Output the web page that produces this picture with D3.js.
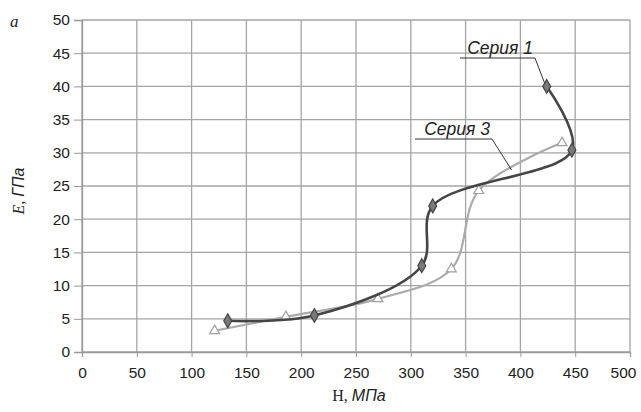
<!DOCTYPE html>
<head>
  <meta charset="utf-8">
  <title>E vs H</title>
  <style>
    body { margin: 0; background: #fff; }
    .tick text { font-family: "Liberation Sans", Arial, sans-serif; font-size: 15.5px; fill: #222; }
  </style>
</head>
<body>
  <script src="https://cdn.jsdelivr.net/npm/d3@7"></script>
  <script>
    // values
    const xTicks = [0, 50, 100, 150, 200, 250, 300, 350, 400, 450, 500];
    const yTicks = [0, 5, 10, 15, 20, 25, 30, 35, 40, 45, 50];
    const seriesNames = ["Серия 1", "Серия 3"];
    const s1H = [133, 212, 310, 320, 447, 424];
    const s1E = [4.7, 5.5, 13, 22, 30.4, 40];
    const s3H = [121, 186, 270, 337, 362, 438];
    const s3E = [3.2, 5.3, 8, 12.5, 24.3, 31.5];

    const W = 641, H = 412;
    const margin = {top: 20, right: 11, bottom: 60, left: 82};

    const svg = d3.select("body").append("svg")
      .attr("width", W).attr("height", H);

    const x = d3.scaleLinear().domain([0, 500]).range([margin.left, W - margin.right]);
    const y = d3.scaleLinear().domain([0, 50]).range([H - margin.bottom, margin.top]);

    // grid
    const grid = svg.append("g").attr("id", "grid");
    grid.selectAll("line.v").data(xTicks).enter().append("line")
      .attr("x1", d => x(d)).attr("x2", d => x(d))
      .attr("y1", y(0)).attr("y2", y(50))
      .attr("stroke", "#a4a4a4").attr("stroke-width", 1.3);
    grid.selectAll("line.h").data(yTicks).enter().append("line")
      .attr("x1", x(0)).attr("x2", x(500))
      .attr("y1", d => y(d)).attr("y2", d => y(d))
      .attr("stroke", "#a4a4a4").attr("stroke-width", 1.3);

    // axes
    const xAxis = svg.append("g")
      .attr("transform", `translate(0,${y(0)})`)
      .call(d3.axisBottom(x).tickValues(xTicks).tickSize(5).tickPadding(10));
    // last label would run off the right edge
    xAxis.selectAll(".tick text").filter(d => d === 500).attr("dx", -7);
    const yAxis = svg.append("g")
      .attr("transform", `translate(${x(0)},0)`)
      .call(d3.axisLeft(y).tickValues(yTicks).tickSize(8).tickPadding(4));
    svg.selectAll(".domain").attr("stroke", "#999").attr("stroke-width", 1.3);
    svg.selectAll(".tick line").attr("stroke", "#999");

    // axis titles
    const yt = svg.append("text")
      .attr("transform", `translate(24,${(y(0) + y(50)) / 2 + 5}) rotate(-90)`)
      .attr("text-anchor", "middle").style("font-size", "16px").attr("fill", "#222");
    yt.append("tspan").style("font-family", "Liberation Serif, serif").style("font-style", "italic").text("E, ");
    yt.append("tspan").style("font-family", "Liberation Sans, sans-serif").style("font-style", "italic").text("ГПа");

    const xt = svg.append("text")
      .attr("x", (x(0) + x(500)) / 2 + 3).attr("y", 401)
      .attr("text-anchor", "middle").style("font-size", "16px").attr("fill", "#222");
    xt.append("tspan").style("font-family", "Liberation Serif, serif").text("H, ");
    xt.append("tspan").style("font-family", "Liberation Sans, sans-serif").style("font-style", "italic").text("МПа");

    svg.append("text").attr("x", 10).attr("y", 27)
      .style("font-family", "Liberation Serif, serif").style("font-style", "italic")
      .style("font-size", "17px").attr("fill", "#222").text("a");

    const s1 = s1H.map((h, i) => [h, s1E[i]]);
    const s3 = s3H.map((h, i) => [h, s3E[i]]);

    const line = d3.line().x(d => x(d[0])).y(d => y(d[1])).curve(d3.curveCatmullRom.alpha(0.5));

    // series 3 (light, triangles)
    svg.append("path").attr("d", line(s3))
      .attr("fill", "none").attr("stroke", "#ababab").attr("stroke-width", 2.2);
    svg.append("g").selectAll("path").data(s3).enter().append("path")
      .attr("d", d3.symbol().type(d3.symbolTriangle).size(42))
      .attr("transform", d => `translate(${x(d[0])},${y(d[1])})`)
      .attr("fill", "#fff").attr("stroke", "#a0a0a0").attr("stroke-width", 1.2);

    // series 1 (dark, diamonds)
    svg.append("path").attr("d", line(s1))
      .attr("fill", "none").attr("stroke", "#454545").attr("stroke-width", 2.6);
    svg.append("g").selectAll("path").data(s1).enter().append("path")
      .attr("d", d3.symbol().type(d3.symbolDiamond).size(55))
      .attr("transform", d => `translate(${x(d[0])},${y(d[1])})`)
      .attr("fill", "#7a7a7a").attr("stroke", "#444").attr("stroke-width", 1.2);

    // callouts
    function callout(name, px, py, tx, ty, w) {
      const g = svg.append("g");
      g.append("text").attr("x", tx + w).attr("y", ty).attr("text-anchor", "end")
        .style("font-family", "Liberation Sans, sans-serif").style("font-style", "italic")
        .style("font-size", "17.5px").attr("fill", "#222").text(name);
      g.append("polyline")
        .attr("points", `${tx - 2},${ty + 4} ${tx + w + 2},${ty + 4} ${px},${py}`)
        .attr("fill", "none").attr("stroke", "#333").attr("stroke-width", 1);
    }
    callout(seriesNames[0], x(424) - 2, y(40) - 3, 462, 54, 71);
    callout(seriesNames[1], x(392), y(27.4), 417, 135, 73);
  </script>
</body>
